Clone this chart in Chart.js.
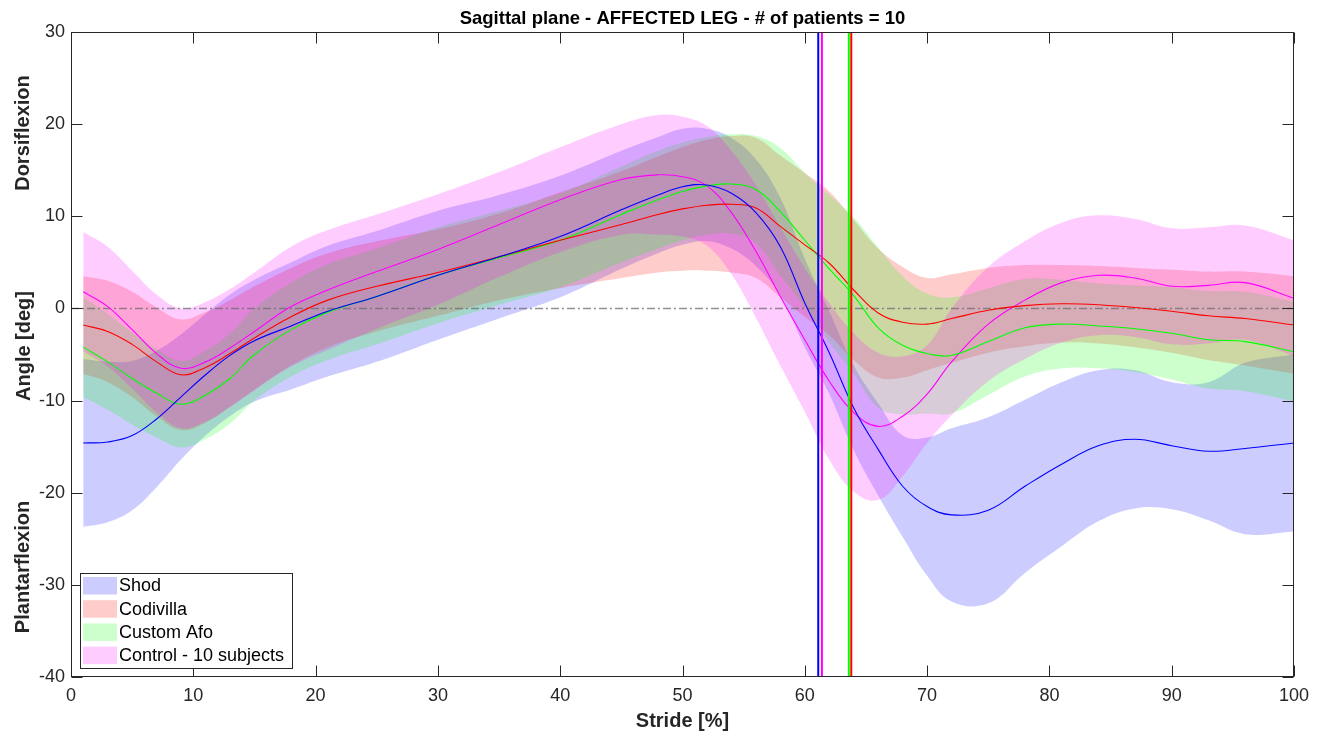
<!DOCTYPE html>
<html>
<head>
<meta charset="utf-8">
<script src="https://cdn.jsdelivr.net/npm/chart.js@4/dist/chart.umd.min.js"></script>
<style>
html, body { margin: 0; padding: 0; background: #ffffff; }
canvas { display: block; }
</style>
</head>
<body>
<canvas id="chart" width="1327" height="739"></canvas>
<script>
// ---------------- data ----------------
const stride = [1,3,5,7,9,11,13,15,18,21,25,30,35,40,45,48,50,52,54,56,58,60,62,64,66,68,70,72,75,78,81,84,87,90,93,96,100];

const shodMean = [-14.6,-14.5,-13.8,-12.0,-9.6,-7.2,-5.1,-3.5,-1.9,-0.3,1.3,3.6,5.6,7.8,10.7,12.3,13.2,13.4,12.5,10.4,6.7,0.6,-4.8,-10.8,-15.3,-19.3,-21.5,-22.4,-21.9,-19.3,-16.9,-14.9,-14.2,-14.9,-15.5,-15.2,-14.6];
const shodSd   = [9.1,8.7,8.1,7.4,6.8,6.6,6.6,6.6,6.9,7.1,7.1,7.0,6.7,6.6,6.4,6.3,6.3,6.1,6.0,5.8,5.3,4.8,4.5,4.6,5.0,5.5,7.5,9.4,10.1,9.4,8.9,8.2,7.5,6.9,7.5,9.3,9.6];

const codivillaMean = [-1.8,-2.5,-3.9,-5.8,-7.2,-6.4,-4.9,-3.2,-0.9,0.9,2.4,3.9,5.6,7.4,9.1,10.2,10.8,11.2,11.3,10.9,8.9,6.9,4.9,2.0,-0.5,-1.5,-1.7,-1.1,-0.2,0.3,0.5,0.4,0.1,-0.3,-0.8,-1.1,-1.8];
const codivillaSd   = [5.3,5.5,5.7,5.9,6.0,6.0,5.8,5.6,5.3,5.1,4.9,4.7,4.7,5.2,5.8,6.3,6.7,7.1,7.4,7.6,7.7,7.8,7.8,7.6,7.0,6.0,5.0,4.8,4.6,4.4,4.2,4.2,4.3,4.5,4.8,5.1,5.3];

const customAfoMean = [-4.2,-5.8,-7.6,-9.2,-10.4,-9.4,-7.6,-5.0,-2.3,-0.4,1.3,3.6,5.5,7.4,10.2,11.8,12.7,13.3,13.5,12.9,10.5,7.4,4.3,1.4,-2.1,-4.0,-4.9,-5.1,-3.6,-2.1,-1.7,-1.9,-2.2,-2.7,-3.4,-3.6,-4.7];
const customAfoSd   = [5.4,5.2,5.0,4.8,4.7,4.8,4.9,5.0,5.1,5.2,5.2,5.2,5.1,5.1,5.2,5.3,5.3,5.3,5.4,5.8,6.9,7.3,8.0,8.5,8.7,7.5,6.5,6.3,5.8,5.3,4.8,4.6,4.7,5.0,5.3,5.4,5.4];

const controlMean = [1.8,0.2,-2.3,-4.9,-6.5,-5.8,-4.3,-2.5,0.2,2.0,4.0,6.4,9.1,11.8,14.0,14.5,14.3,13.3,10.4,6.2,1.3,-3.4,-7.9,-11.3,-12.8,-11.7,-9.3,-5.8,-1.7,0.9,2.8,3.6,3.3,2.4,2.5,2.8,1.1];
const controlSd   = [6.5,6.5,6.4,6.4,6.5,6.5,6.4,6.4,6.5,6.5,6.2,6.0,5.7,5.7,6.0,6.5,6.5,6.5,6.7,7.2,7.5,7.8,8.5,8.6,8.0,6.5,5.3,5.8,6.2,6.4,6.5,6.5,6.4,6.3,6.3,6.2,6.3];

const seriesNames = ['Shod', 'Codivilla', 'Custom Afo', 'Control - 10 subjects'];
const toeOff = [61.1, 63.8, 63.6, 61.4];   // Shod, Codivilla, Custom Afo, Control
const zeroLevel = [0, 0];
const zeroRange = [0, 100];

const xTickValues = [0,10,20,30,40,50,60,70,80,90,100];
const yTickValues = [-40,-30,-20,-10,0,10,20,30];

const chartTitle = 'Sagittal plane - AFFECTED LEG - # of patients = 10';
const xLabel = 'Stride [%]';
const yLabel = 'Angle [deg]';
const upLabel = 'Dorsiflexion';
const downLabel = 'Plantarflexion';

// ---------------- styling ----------------
const FONT = "'Liberation Sans', Arial, Helvetica, sans-serif";
const AXIS_COLOR = '#262626';
const TENSION = 0.4;

const series = [
  { name: seriesNames[0], mean: shodMean,      sd: shodSd,      line: 'rgb(0,0,255)',   fill: 'rgba(0,0,255,0.2)' },
  { name: seriesNames[1], mean: codivillaMean, sd: codivillaSd, line: 'rgb(255,0,0)',   fill: 'rgba(255,0,0,0.2)' },
  { name: seriesNames[2], mean: customAfoMean, sd: customAfoSd, line: 'rgb(0,255,0)',   fill: 'rgba(0,255,0,0.2)' },
  { name: seriesNames[3], mean: controlMean,   sd: controlSd,   line: 'rgb(255,0,255)', fill: 'rgba(255,0,255,0.2)' }
];

const datasets = [];

// vertical toe-off lines (on top)
const toeColors = ['rgb(0,0,255)', 'rgb(255,0,0)', 'rgb(0,255,0)', 'rgb(255,0,255)'];
toeOff.forEach((t, i) => {
  datasets.push({
    label: seriesNames[i] + ' toe-off',
    data: [{ x: t, y: yTickValues[0] }, { x: t, y: yTickValues[yTickValues.length - 1] }],
    borderColor: toeColors[i],
    borderWidth: 2,
    pointRadius: 0,
    fill: false,
    tension: 0,
    order: 1
  });
});

// mean lines
series.forEach((s) => {
  datasets.push({
    label: s.name,
    data: stride.map((x, k) => ({ x: x, y: s.mean[k] })),
    borderColor: s.line,
    borderWidth: 1.1,
    pointRadius: 0,
    fill: false,
    tension: TENSION,
    order: 2
  });
});

// zero reference line
datasets.push({
  label: 'zero',
  data: zeroRange.map((x, k) => ({ x: x, y: zeroLevel[k] })),
  borderColor: 'rgba(110,110,110,0.75)',
  borderWidth: 1.5,
  borderDash: [8, 3, 2, 3],
  pointRadius: 0,
  fill: false,
  tension: 0,
  order: 3
});

// SD bands
series.forEach((s, i) => {
  const ord = 40 - i * 10;
  datasets.push({
    label: s.name + ' upper',
    data: stride.map((x, k) => ({ x: x, y: s.mean[k] + s.sd[k] })),
    borderColor: 'rgba(0,0,0,0)',
    borderWidth: 0,
    backgroundColor: s.fill,
    pointRadius: 0,
    fill: '+1',
    tension: TENSION,
    order: ord
  });
  datasets.push({
    label: s.name + ' lower',
    data: stride.map((x, k) => ({ x: x, y: s.mean[k] - s.sd[k] })),
    borderColor: 'rgba(0,0,0,0)',
    borderWidth: 0,
    pointRadius: 0,
    fill: false,
    tension: TENSION,
    order: ord
  });
});

// ---------------- decorations plugin ----------------
const decorPlugin = {
  id: 'decor',
  afterDraw(chart) {
    const { ctx, chartArea: a, scales } = chart;
    const xs = scales.x, ys = scales.y;
    ctx.save();
    // axes box
    const L = Math.round(a.left) + 0.5, R = Math.round(a.right) - 0.5;
    const T = Math.round(a.top) + 0.5, B = Math.round(a.bottom) - 0.5;
    ctx.strokeStyle = AXIS_COLOR;
    ctx.lineWidth = 1;
    ctx.setLineDash([]);
    ctx.strokeRect(L, T, R - L, B - T);
    // inward ticks
    const TL = 11;
    ctx.beginPath();
    xTickValues.forEach(v => {
      const px = Math.round(xs.getPixelForValue(v)) + 0.5;
      ctx.moveTo(px, B); ctx.lineTo(px, B - TL);
      ctx.moveTo(px, T); ctx.lineTo(px, T + TL);
    });
    yTickValues.forEach(v => {
      const py = Math.round(ys.getPixelForValue(v)) + 0.5;
      ctx.moveTo(L, py); ctx.lineTo(L + TL, py);
      ctx.moveTo(R, py); ctx.lineTo(R - TL, py);
    });
    ctx.stroke();

    // title
    ctx.fillStyle = '#000000';
    ctx.font = 'bold 18.5px ' + FONT;
    ctx.textAlign = 'center';
    ctx.textBaseline = 'middle';
    ctx.fillText(chartTitle, (a.left + a.right) / 2, 18.5);

    // axis labels
    ctx.fillStyle = AXIS_COLOR;
    ctx.font = 'bold 20px ' + FONT;
    ctx.fillText(xLabel, (a.left + a.right) / 2, 721);
    const side = [
      { text: upLabel, y: a.top + 101, x: 23 },
      { text: yLabel, y: a.top + 314, x: 24 },
      { text: downLabel, y: a.top + 535, x: 23 }
    ];
    side.forEach(s => {
      ctx.save();
      ctx.translate(s.x, s.y);
      ctx.rotate(-Math.PI / 2);
      ctx.fillText(s.text, 0, 0);
      ctx.restore();
    });

    // legend
    const lx = 80.5, ly = 573.5, lw = 212, lh = 95;
    ctx.fillStyle = '#ffffff';
    ctx.fillRect(lx, ly, lw, lh);
    ctx.strokeStyle = AXIS_COLOR;
    ctx.strokeRect(lx, ly, lw, lh);
    ctx.font = '18px ' + FONT;
    ctx.textAlign = 'left';
    ctx.textBaseline = 'middle';
    series.forEach((s, i) => {
      const ry = 577 + i * 23.2;
      ctx.fillStyle = s.fill;
      ctx.fillRect(83, ry, 34, 17.5);
      ctx.fillStyle = '#000000';
      ctx.fillText(s.name, 119, ry + 9.5);
    });
    ctx.restore();
  }
};

// ---------------- chart ----------------
new Chart(document.getElementById('chart'), {
  type: 'line',
  data: { datasets: datasets },
  options: {
    responsive: false,
    animation: false,
    events: [],
    layout: { padding: { left: 0, right: 33, top: 32, bottom: 0 } },
    plugins: {
      legend: { display: false },
      tooltip: { enabled: false },
      title: { display: false }
    },
    scales: {
      x: {
        type: 'linear',
        min: xTickValues[0],
        max: xTickValues[xTickValues.length - 1],
        grid: { display: false, drawTicks: false },
        border: { display: false },
        afterBuildTicks: s => { s.ticks = xTickValues.map(v => ({ value: v })); },
        afterFit: s => { s.height = 62; },
        ticks: {
          color: AXIS_COLOR,
          font: { family: FONT, size: 18 },
          padding: 8,
          maxRotation: 0,
          autoSkip: false
        }
      },
      y: {
        type: 'linear',
        min: yTickValues[0],
        max: yTickValues[yTickValues.length - 1],
        grid: { display: false, drawTicks: false },
        border: { display: false },
        afterBuildTicks: s => { s.ticks = yTickValues.map(v => ({ value: v })); },
        afterFit: s => { s.width = 71; },
        ticks: {
          color: AXIS_COLOR,
          font: { family: FONT, size: 18 },
          padding: 6,
          autoSkip: false
        }
      }
    }
  },
  plugins: [decorPlugin]
});
</script>
</body>
</html>
